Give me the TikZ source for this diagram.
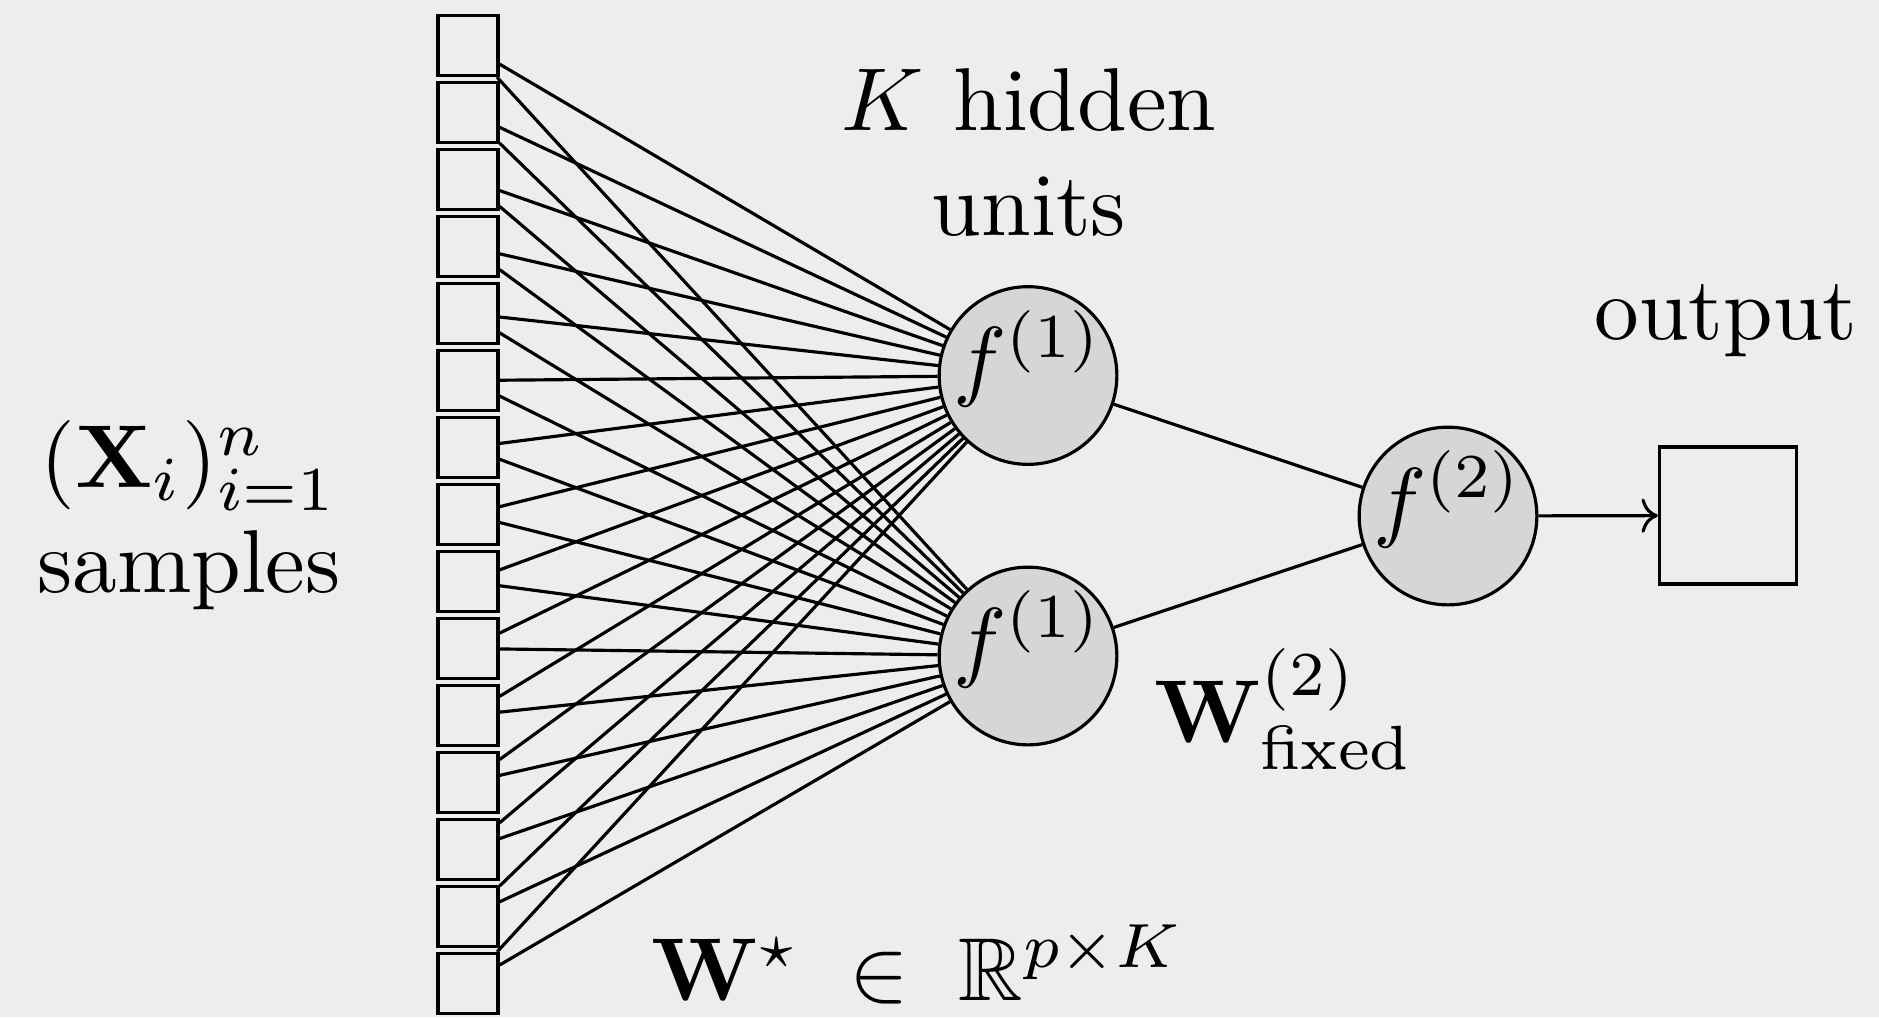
\documentclass[tikz,border=0pt]{standalone}
\usepackage{amsmath}
\usepackage{amssymb}
\usetikzlibrary{positioning,arrows.meta}

\definecolor{bgcol}{RGB}{237,237,237}
\definecolor{unitcol}{RGB}{214,214,214}
\newcommand{\unittxt}[1]{\raisebox{4.8pt}[\height][\depth]{\scalebox{2.54}{$#1$}}}

\begin{document}
\begin{tikzpicture}[
  x=0.01cm, y=-0.01cm,
  line width=0.9pt,
  lbl/.style={scale=2.54, transform shape, font=\fontsize{10}{11.7}\selectfont, inner sep=0pt, align=center},
  inbox/.style={draw, minimum size=0.6cm, inner sep=0pt},
  unit/.style={draw, circle, fill=unitcol, minimum size=1.76cm, inner sep=0pt},
  outbox/.style={draw, minimum size=1.37cm, inner sep=0pt},
  arr/.style={-{To[scale=1.3]}}
]
\fill[bgcol] (0,0) rectangle (1879,1017);
\useasboundingbox (0,0) rectangle (1879,1017);

% input samples
\foreach \i in {1,...,15}
  \node[inbox] (in-\i) at (468,{45.5+67*(\i-1)}) {};

% hidden layer and output unit
\node[unit] (h-1) at (1028,375.5) {\unittxt{f^{(1)}}};
\node[unit] (h-2) at (1028,656) {\unittxt{f^{(1)}}};
\node[unit] (f2) at (1448,516) {\unittxt{f^{(2)}}};
\node[outbox] (outb) at (1728,515.5) {};

\foreach \i in {1,...,15}
  \foreach \j in {1,2}
    \draw (in-\i) -- (h-\j);
\draw (h-1) -- (f2);
\draw (h-2) -- (f2);
\draw[arr] (f2) -- (outb);

% labels
\node[lbl, anchor=base] (smplbl) at (189,592) {$(\mathbf{X}_i)_{i=1}^n$\\samples};
\node[lbl, anchor=base] (hidlbl) at (1029,235) {$K$ hidden\\units};
\node[lbl, anchor=base] (outlbl) at (1726,339) {output};
\node[lbl, anchor=base west] (wfix) at (1150,742) {$\mathbf{W}^{(2)}_{\text{fixed}}$};
\node[lbl, anchor=base west] (wstar) at (647,1000) {$\mathbf{W}^\star\;\in\;\mathbb{R}^{p\times K}$};
\end{tikzpicture}
\end{document}
